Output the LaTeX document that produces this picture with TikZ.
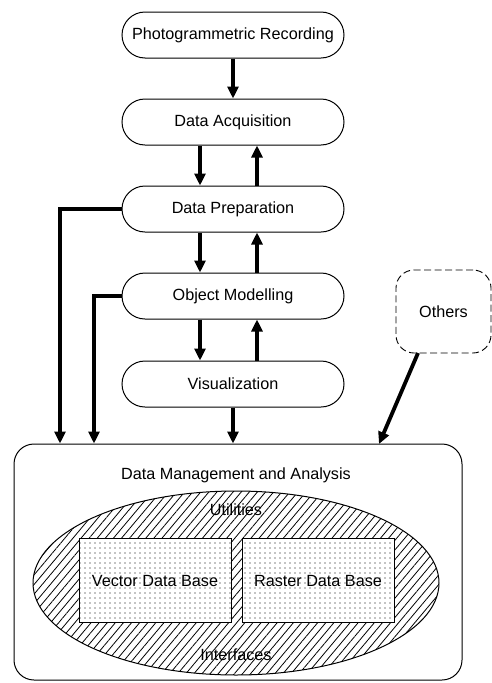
\documentclass[tikz,border=0pt]{standalone}
\usepackage{fontspec}
\setmainfont{Liberation Sans}
\usetikzlibrary{arrows.meta,patterns.meta,shapes.geometric}
\begin{document}
\begin{tikzpicture}[x=1pt,y=-1pt,
  txt/.style={font=\fontsize{16.2}{19}\selectfont},
  pill/.style={draw,line width=1pt,rounded corners=23pt,minimum width=222pt,minimum height=46pt,inner sep=0pt,txt},
  arr/.style={line width=3.8pt,-{Triangle[length=12pt,width=11pt]}},
  lbl/.style={txt,inner sep=0pt},
  dbox/.style={draw,line width=0.9pt,preaction={fill=white},pattern={Dots[distance=5pt,radius=0.65pt]},minimum width=152pt,minimum height=84pt,inner sep=0pt,txt}
]
\useasboundingbox (0,0) rectangle (492,683);
% main chain
\node[pill] (pr) at (233,35) {Photogrammetric Recording};
\node[pill] (da) at (233,122) {Data Acquisition};
\node[pill] (dp) at (233,209) {Data Preparation};
\node[pill] (om) at (233,296) {Object Modelling};
\node[pill] (vi) at (233,384) {Visualization};
% others
\node[draw,dash pattern=on 7pt off 3.5pt,line width=0.9pt,rounded corners=18pt,minimum width=95pt,minimum height=83pt,inner sep=0pt,txt] (ot) at (443.5,311.5) {Others};
% big box
\node[draw,line width=1pt,rounded corners=20pt,minimum width=448pt,minimum height=236pt,inner sep=0pt] (dm) at (238,562) {};
\node[lbl] (dmt) at (236,475) {Data Management and Analysis};
% ellipse
\node[ellipse,draw,line width=1pt,minimum width=406pt,minimum height=184pt,inner sep=0pt,preaction={fill=white},pattern={Lines[angle=50,distance=6.2pt,line width=0.8pt]}] (el) at (236,583) {};
\node[lbl] (ut) at (236,510) {Utilities};
\node[lbl] (in) at (236,655) {Interfaces};
\node[dbox] (vdb) at (155,580.5) {Vector Data Base};
\node[dbox] (rdb) at (318,580.5) {Raster Data Base};
% coordinates for parallel arrows
\coordinate (cl) at (200,0);
\coordinate (cr) at (257,0);
\coordinate (c1) at (60,0);
\coordinate (c2) at (94,0);
\coordinate (os) at (418,353);
\coordinate (oe) at (379,444);
% arrows
\draw[arr] (pr.south) -- (da.north);
\draw[arr] (da.south -| cl) -- (dp.north -| cl);
\draw[arr] (dp.north -| cr) -- (da.south -| cr);
\draw[arr] (dp.south -| cl) -- (om.north -| cl);
\draw[arr] (om.north -| cr) -- (dp.south -| cr);
\draw[arr] (om.south -| cl) -- (vi.north -| cl);
\draw[arr] (vi.north -| cr) -- (om.south -| cr);
\draw[arr] (vi.south) -- (vi.south |- dm.north);
\draw[arr] (dp.west) -- (dp.west -| c1) -- (dm.north -| c1);
\draw[arr] (om.west) -- (om.west -| c2) -- (dm.north -| c2);
\draw[arr] (os) -- (oe);
\end{tikzpicture}
\end{document}
